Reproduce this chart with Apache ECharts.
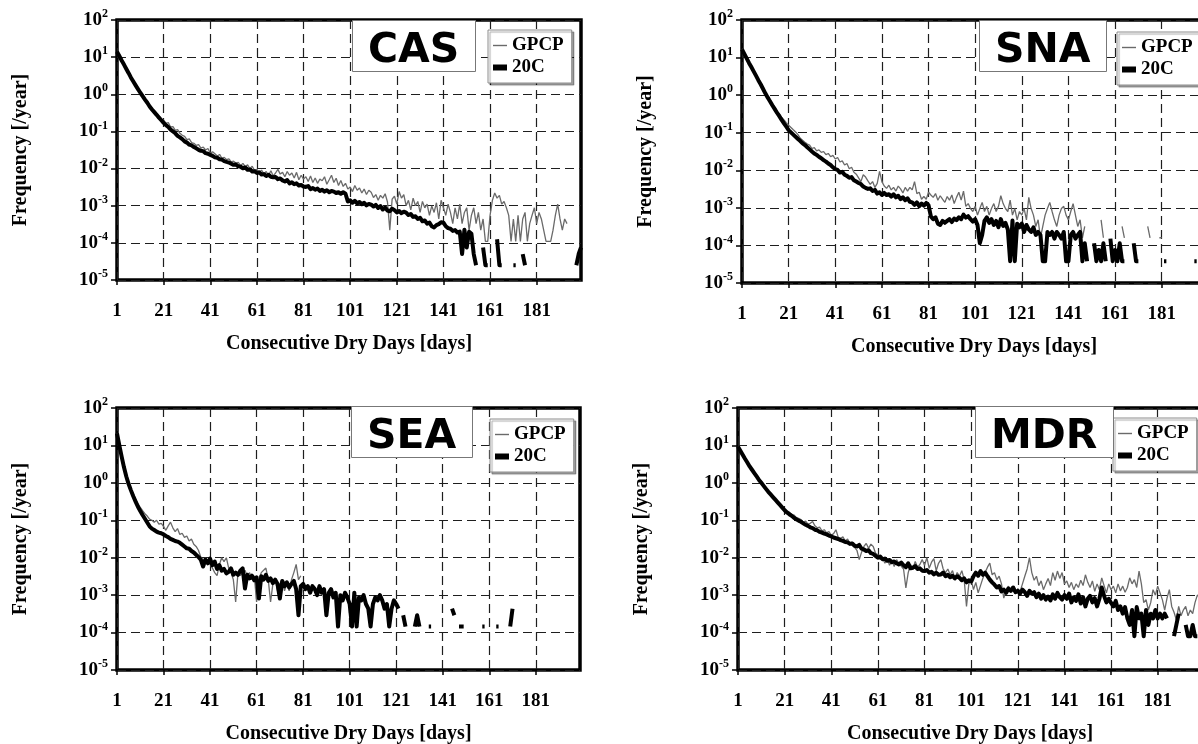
<!DOCTYPE html>
<html>
<head>
<meta charset="utf-8">
<title>Consecutive Dry Days frequency</title>
<script src="https://cdn.jsdelivr.net/npm/echarts/dist/echarts.min.js"></script>
<style>
  html, body { margin: 0; padding: 0; background: #fff; overflow: hidden; }
  #main { width: 1215px; height: 744px; }
</style>
</head>
<body>
<div id="main"></div>
<script>
// categories: consecutive dry days 1..200
var days = [];
for (var d = 1; d <= 200; d++) days.push(String(d));

// frequency [/year], one value per day (null = no event, line breaks)
var casGpcp = [
  13.5, 10.5, 7.9, 6.2, 4.8, 3.7, 2.9, 2.24, 1.78, 1.41,
  1.12, 0.91, 0.76, 0.62, 0.5, 0.43, 0.355, 0.3, 0.26, 0.22,
  0.2, 0.166, 0.174, 0.132, 0.135, 0.107, 0.112, 0.089, 0.079, 0.074,
  0.06, 0.063, 0.05, 0.048, 0.042, 0.044, 0.0355, 0.038, 0.0316, 0.0347,
  0.0263, 0.0282, 0.0251, 0.0219, 0.024, 0.019, 0.02, 0.0174, 0.0182, 0.0151,
  0.0158, 0.0141, 0.0148, 0.012, 0.0138, 0.0112, 0.0126, 0.01, 0.0115, 0.0089,
  0.0095, 0.0079, 0.0091, 0.0072, 0.0083, 0.0066, 0.0087, 0.0063, 0.0076, 0.0095,
  0.0071, 0.0079, 0.006, 0.0083, 0.0066, 0.0076, 0.0056, 0.0079, 0.005, 0.0066,
  0.0052, 0.006, 0.0045, 0.0063, 0.0042, 0.0056, 0.004, 0.0052, 0.0047, 0.006,
  0.0038, 0.005, 0.0066, 0.0042, 0.0055, 0.0035, 0.0048, 0.0033, 0.004, 0.0028,
  0.0032, 0.0024, 0.0035, 0.0026, 0.003, 0.0022, 0.0028, 0.002, 0.0026, 0.0023,
  0.00166, 0.002, 0.0014, 0.0019, 0.0016, 0.0021, 0.00126, 0.00022, 0.0015, 0.0018,
  0.0011, 0.0024, 0.0016, 0.002, 0.001, 0.0014, 0.00077, 0.0016, 0.001, 0.0013,
  0.00066, 0.0013, 0.00088, 0.0011, 0.00055, 0.00099, 0.00066, 0.0012, 0.00044, 0.0014,
  0.00088, 0.00055, 0.0011, 0.00066, 0.00033, 0.00088, 0.00044, 0.0011, 0.00033, 0.00066,
  0.00088, 0.00022, 0.00055, 0.00088, 0.00033, 0.00066, 0.00022, 0.00044, 0.00011, 0.00011,
  0.00055, 0.0014, 0.0022, 0.0016, 0.0019, 0.0011, 0.0013, 0.00088, 0.00055, 0.00011,
  0.00044, 0.00011, 0.00055, 0.00011, 0.00044, 0.00066, 0.00011, 0.00033, 0.00055, 0.00088,
  0.00033, 0.00066, 0.00044, 0.00022, 0.00011, 0.00011, 0.00011, 0.00022, 0.00055, 0.0011,
  0.00044, 0.00022, 0.00044, 0.00033
];
var cas20c = [
  14, 10.7, 8.1, 6.3, 4.8, 3.7, 2.8, 2.2, 1.74, 1.38,
  1.1, 0.89, 0.72, 0.59, 0.47, 0.39, 0.33, 0.28, 0.234, 0.2,
  0.17, 0.148, 0.132, 0.112, 0.1, 0.089, 0.076, 0.069, 0.062, 0.054,
  0.05, 0.044, 0.042, 0.038, 0.035, 0.032, 0.03, 0.0295, 0.026, 0.025,
  0.0234, 0.0219, 0.02, 0.0195, 0.0178, 0.0174, 0.0158, 0.0151, 0.0145, 0.0135,
  0.0126, 0.0129, 0.0115, 0.0112, 0.0102, 0.0107, 0.0093, 0.0095, 0.0083, 0.0085,
  0.0076, 0.0079, 0.0069, 0.0071, 0.0063, 0.0068, 0.006, 0.0058, 0.0059, 0.0052,
  0.0054, 0.0048, 0.0045, 0.0049, 0.004, 0.0043, 0.0038, 0.004, 0.0035, 0.0036,
  0.0033, 0.0032, 0.0034, 0.0028, 0.003, 0.0027, 0.0029, 0.0025, 0.0027, 0.0024,
  0.0026, 0.0023, 0.0025, 0.0024, 0.0022, 0.0023, 0.0021, 0.0023, 0.0021, 0.0013,
  0.0014, 0.0012, 0.00135, 0.00115, 0.00126, 0.0011, 0.0012, 0.00102, 0.00112, 0.00107,
  0.00095, 0.00105, 0.00087, 0.00098, 0.00079, 0.00089, 0.00074, 0.00071, 0.00083, 0.00076,
  0.00066, 0.00072, 0.00063, 0.00069, 0.00065, 0.00056, 0.0006, 0.0005, 0.00052, 0.00044,
  0.00047, 0.00038, 0.0004, 0.00033, 0.00035, 0.00028, 0.00026, 0.0003, 0.00032, 0.00036,
  0.00035, 0.00028, 0.00025, 0.00024, 0.00021, 0.00022, 0.00019, 0.0002, 5e-5, 2.25e-4,
  7.5e-5, 2e-4, 1.75e-4, 5e-5, 2.5e-5, null, null, 7.5e-5, 2.5e-5, 2.5e-5,
  null, null, null, 1.25e-4, 2.5e-5, 2.5e-5, null, null, null, null,
  2.5e-5, 2.5e-5, null, null, 5e-5, 2.5e-5, null, null, null, null,
  null, null, null, null, null, null, null, null, null, null,
  null, null, null, null, null, null, null, 2.5e-5, 5e-5, 7.5e-5
];

var snaGpcp = [
  16.6, 12.6, 9.5, 7.2, 5.6, 4.3, 3.3, 2.57, 2.0, 1.51,
  1.17, 0.93, 0.74, 0.59, 0.47, 0.38, 0.32, 0.26, 0.22, 0.186,
  0.158, 0.138, 0.12, 0.105, 0.089, 0.071, 0.063, 0.056, 0.05, 0.047,
  0.038, 0.04, 0.033, 0.035, 0.03, 0.0316, 0.026, 0.028, 0.023, 0.025,
  0.02, 0.022, 0.0166, 0.0178, 0.0138, 0.0151, 0.011, 0.012, 0.0089, 0.0079,
  0.0063, 0.005, 0.0076, 0.0066, 0.0052, 0.0042, 0.005, 0.0035, 0.0045, 0.0093,
  0.005, 0.0038, 0.0033, 0.004, 0.003, 0.0035, 0.0028, 0.0038, 0.0032, 0.0025,
  0.0035, 0.0028, 0.0035, 0.003, 0.005, 0.0024, 0.0026, 0.0017, 0.002, 0.0017,
  0.0026, 0.0022, 0.0019, 0.0024, 0.0016, 0.0021, 0.0017, 0.0014, 0.002, 0.0016,
  0.0022, 0.0013, 0.0019, 0.0026, 0.0016, 0.0028, 0.0011, 0.0013, 0.00096, 0.0008,
  0.0011, 0.00064, 0.00096, 0.0014, 0.0008, 0.0011, 0.00064, 0.00096, 0.0013, 0.0008,
  0.0011, 0.0021, 0.0013, 0.00096, 0.0008, 0.0016, 0.00064, 0.00096, 0.00048, 0.0008,
  0.00064, 0.00096, 0.00048, 0.0019, 0.00096, 0.00064, 0.00032, 0.00048, 0.00016, 0.00032,
  0.00064, 0.00096, 0.0014, 0.0008, 0.00048, 0.00032, 0.00064, 0.00096, 0.0011, 0.00064,
  0.00048, 0.0008, 0.0013, 0.00064, 0.00032, 0.00048, 0.00016, 0.00032, null, null,
  null, null, null, null, 0.00048, 0.00016, null, null, null, null,
  null, null, null, 0.00032, 0.00016, null, null, null, null, null,
  null, null, null, null, 0.00032, 0.00016, null, null, null, 0.00016,
  0.00016
];
var sna20c = [
  16.6, 12.6, 9.5, 7.2, 5.6, 4.3, 3.3, 2.5, 1.95, 1.48,
  1.12, 0.87, 0.69, 0.54, 0.43, 0.34, 0.275, 0.22, 0.178, 0.145,
  0.117, 0.102, 0.089, 0.078, 0.068, 0.06, 0.052, 0.047, 0.041, 0.036,
  0.0316, 0.028, 0.0257, 0.0229, 0.0209, 0.0186, 0.017, 0.0151, 0.0138, 0.012,
  0.0107, 0.0102, 0.0087, 0.0091, 0.0076, 0.0071, 0.0063, 0.0066, 0.0054, 0.005,
  0.0046, 0.0043, 0.0037, 0.0034, 0.0032, 0.0033, 0.0028, 0.003, 0.0024, 0.0026,
  0.0022, 0.0025, 0.0022, 0.0023, 0.002, 0.0023, 0.0019, 0.0021, 0.0017, 0.0019,
  0.0016, 0.0018, 0.00145, 0.0014, 0.0012, 0.0014, 0.0011, 0.0013, 0.00115, 0.00135,
  0.00118, 5.9e-4, 5.0e-4, 5.6e-4, 3.8e-4, 3.5e-4, 4.5e-4, 4.0e-4, 4.5e-4, 5.0e-4,
  4.2e-4, 5.2e-4, 4.7e-4, 5.6e-4, 5.0e-4, 6.6e-4, 5.5e-4, 6.0e-4, 5.0e-4, 4.3e-4,
  5.0e-4, 3.5e-4, 1.14e-4, 1.9e-4, 4.5e-4, 5.6e-4, 4.0e-4, 5.0e-4, 3.5e-4, 4.5e-4,
  3.04e-4, 5.0e-4, 3.3e-4, 4.0e-4, 2.66e-4, 3.8e-5, 4.6e-4, 3.8e-5, 3.8e-4, 3.04e-4,
  3.8e-4, 2.28e-4, 3.5e-4, 2.66e-4, 2.28e-4, 3.04e-4, 1.9e-4, 2.28e-4, 1.9e-4, 3.8e-5,
  3.8e-5, 2.28e-4, 1.9e-4, 2.28e-4, 1.52e-4, 2.28e-4, 1.9e-4, 1.52e-4, 2.28e-4, 3.8e-5,
  3.8e-5, 1.9e-4, 2.28e-4, 1.52e-4, 1.9e-4, 2.28e-4, 3.8e-5, 1.14e-4, 3.8e-5, null,
  null, 1.14e-4, 3.8e-5, 7.6e-5, 3.8e-5, 1.14e-4, 3.8e-5, null, 1.52e-4, 3.8e-5,
  7.6e-5, 3.8e-5, 1.14e-4, 3.8e-5, 3.8e-5, null, null, null, 1.14e-4, 3.8e-5,
  3.8e-5, null, null, null, null, null, null, null, null, null,
  null, 3.8e-5, 3.8e-5, null, null, null, null, null, null, null,
  null, null, null, null, 3.8e-5, 3.8e-5
];

var seaGpcp = [
  21, 10.5, 5.4, 2.9, 1.62, 1.0, 0.68, 0.5, 0.36, 0.28,
  0.22, 0.18, 0.15, 0.13, 0.107, 0.1, 0.089, 0.1, 0.079, 0.083,
  0.069, 0.054, 0.071, 0.089, 0.063, 0.05, 0.06, 0.042, 0.045, 0.035,
  0.038, 0.028, 0.0316, 0.023, 0.02, 0.0158, 0.0105, 0.0085, 0.01, 0.0079,
  0.0066, 0.0053, 0.004, 0.0033, 0.0066, 0.01, 0.0079, 0.01, 0.0053, 0.004,
  0.0026, 0.00066, 0.004, 0.0033, 0.004, 0.0046, 0.0033, 0.004, 0.0026, 0.0033,
  0.00066, 0.0026, 0.004, 0.0046, 0.0053, 0.0026, 0.00066, 0.002, 0.0026, 0.0013,
  0.002, 0.0026, 0.0013, 0.002, 0.0013, 0.0026, 0.004, 0.0066, 0.0026, 0.0033
];
var sea20c = [
  21, 10, 5.0, 2.6, 1.48, 0.93, 0.63, 0.44, 0.316, 0.23,
  0.178, 0.138, 0.11, 0.087, 0.069, 0.06, 0.055, 0.05, 0.047, 0.045,
  0.042, 0.038, 0.0355, 0.032, 0.03, 0.028, 0.027, 0.025, 0.0224, 0.02,
  0.0178, 0.0174, 0.0151, 0.0138, 0.012, 0.0105, 0.0089, 0.0058, 0.0089, 0.0071,
  0.0095, 0.0063, 0.0079, 0.005, 0.0063, 0.0045, 0.005, 0.0038, 0.0042, 0.0052,
  0.0035, 0.004, 0.0035, 0.0045, 0.0052, 0.0015, 0.0035, 0.0028, 0.0033, 0.0025,
  0.003, 0.00081, 0.0032, 0.0026, 0.0035, 0.0024, 0.0028, 0.0021, 0.0026, 0.002,
  0.00081, 0.0024, 0.00174, 0.0022, 0.0016, 0.002, 0.0024, 0.00145, 0.00029, 0.00174,
  0.002, 0.00145, 0.00174, 0.00116, 0.00174, 0.00145, 0.001, 0.00174, 0.00116, 0.00145,
  0.00029, 0.00116, 0.00145, 0.00087, 0.00116, 0.000145, 0.001, 0.000725, 0.00116, 0.00087,
  0.00058, 0.000145, 0.00116, 0.000145, 0.00087, 0.000725, 0.001, 0.00058, 0.000435, 0.000145,
  0.00058, 0.00087, 0.000725, 0.001, 0.000725, 0.000435, 0.00058, 0.000145, 0.000435, 0.000725,
  0.00058, 0.000435, null, 0.00029, 0.000145, null, null, null, 0.000145, 0.00029,
  0.000145, null, null, null, 0.000145, 0.000145, null, null, null, null,
  null, null, null, null, 0.000435, 0.00029, null, 0.000145, 0.000145, 0.000145,
  null, null, null, null, null, null, null, 0.000145, 0.000145, null,
  null, null, null, 0.000145, 0.000145, null, null, null, null, 0.000145,
  0.000435
];

var mdrGpcp = [
  9.3, 7.2, 5.6, 4.4, 3.5, 2.75, 2.24, 1.82, 1.48, 1.23,
  1.02, 0.85, 0.71, 0.59, 0.5, 0.43, 0.36, 0.31, 0.27, 0.234,
  0.2, 0.174, 0.166, 0.141, 0.138, 0.117, 0.112, 0.105, 0.089, 0.095,
  0.079, 0.083, 0.093, 0.071, 0.063, 0.066, 0.052, 0.056, 0.046, 0.05,
  0.04, 0.044, 0.056, 0.035, 0.033, 0.036, 0.028, 0.0316, 0.024, 0.026,
  0.019, 0.0158, 0.0089, 0.0141, 0.02, 0.024, 0.0178, 0.023, 0.02, 0.0132,
  0.012, 0.0089, 0.01, 0.0071, 0.0095, 0.0063, 0.0083, 0.0058, 0.0089, 0.0071,
  0.006, 0.005, 0.00155, 0.004, 0.0066, 0.005, 0.0079, 0.0056, 0.0066, 0.0089,
  0.0063, 0.01, 0.0052, 0.0076, 0.0095, 0.0045, 0.0071, 0.0089, 0.005, 0.004,
  0.005, 0.0035, 0.0045, 0.0028, 0.004, 0.0032, 0.0045, 0.0026, 0.0005, 0.002,
  0.0026, 0.0014, 0.0022, 0.00115, 0.0018, 0.0028, 0.004, 0.0056, 0.0072, 0.0035,
  0.004, 0.0026, 0.0032, 0.002, 0.00083, 0.0014, 0.00174, 0.00126, 0.0016, 0.00115,
  0.0015, 0.00126, 0.002, 0.0032, 0.005, 0.01, 0.004, 0.0025, 0.0032, 0.0018,
  0.0024, 0.0014, 0.002, 0.0028, 0.0018, 0.004, 0.0025, 0.0044, 0.0028, 0.004,
  0.002, 0.0024, 0.0016, 0.0022, 0.0014, 0.002, 0.0016, 0.0025, 0.0018, 0.0035,
  0.0022, 0.0016, 0.0024, 0.00126, 0.002, 0.0014, 0.0029, 0.0018, 0.00115, 0.002,
  0.0014, 0.00174, 0.00115, 0.002, 0.0013, 0.00174, 0.0012, 0.0016, 0.0029, 0.002,
  0.0026, 0.0016, 0.0044, 0.002, 0.00063, 0.00076, 0.0004, 0.00063, 0.0014, 0.001,
  0.00174, 0.00115, 0.00076, 0.0004, 0.00083, 0.0014, 0.0005, 0.00035, 0.00022, 0.0005,
  0.00028, 0.0004, 0.0005, 0.00028, 0.0004, 0.00032, 0.00063, 0.001, 0.0009, 0.00063
];
var mdr20c = [
  9.3, 7.2, 5.6, 4.4, 3.5, 2.75, 2.24, 1.82, 1.48, 1.2,
  1.0, 0.83, 0.69, 0.575, 0.49, 0.417, 0.355, 0.302, 0.257, 0.219,
  0.186, 0.162, 0.145, 0.132, 0.117, 0.107, 0.098, 0.091, 0.083, 0.076,
  0.071, 0.065, 0.062, 0.056, 0.054, 0.049, 0.047, 0.044, 0.042, 0.039,
  0.037, 0.0347, 0.0331, 0.0316, 0.0295, 0.0282, 0.0263, 0.0257, 0.0234, 0.024,
  0.0209, 0.02, 0.0219, 0.0174, 0.0166, 0.0151, 0.0158, 0.0132, 0.0126, 0.0112,
  0.01, 0.0107, 0.0091, 0.0095, 0.0083, 0.0087, 0.0076, 0.0079, 0.0071, 0.0066,
  0.0074, 0.0063, 0.0056, 0.0071, 0.0052, 0.0054, 0.006, 0.005, 0.0052, 0.0045,
  0.0044, 0.0047, 0.004, 0.0042, 0.0036, 0.004, 0.0035, 0.00355, 0.004, 0.0032,
  0.0035, 0.003, 0.0033, 0.0028, 0.0032, 0.0029, 0.0025, 0.0028, 0.0022, 0.0025,
  0.0023, 0.0032, 0.004, 0.0033, 0.0044, 0.0035, 0.004, 0.0032, 0.0026, 0.0022,
  0.0019, 0.0016, 0.00175, 0.00126, 0.0014, 0.00115, 0.0015, 0.0013, 0.0016, 0.0012,
  0.0013, 0.0011, 0.0014, 0.0012, 0.00096, 0.0013, 0.0011, 0.0012, 0.00088, 0.0011,
  0.0008, 0.001, 0.00076, 0.00091, 0.00072, 0.00105, 0.0008, 0.00115, 0.00088, 0.00076,
  0.001, 0.0008, 0.0011, 0.00064, 0.00088, 0.0007, 0.00105, 0.0006, 0.00088, 0.0005,
  0.0008, 0.00096, 0.00064, 0.00083, 0.0005, 0.0008, 0.0016, 0.00096, 0.00064, 0.0008,
  0.00062, 0.0005, 0.0007, 0.0004, 0.0005, 0.00032, 0.00048, 0.00024, 0.00016, 0.0004,
  0.00008, 0.00048, 0.00024, 0.00032, 0.00008, 0.0004, 0.00016, 0.00032, 0.00024, 0.0004,
  0.00024, 0.00032, 0.00024, 0.00032, 0.00024, null, null, 0.00008, 0.00016, 0.00032,
  null, null, 0.00016, 0.00008, 0.00008, 0.00016, 0.00008, 0.00008
];

(function () {
  var myChart = echarts.init(document.getElementById('main'));

  var serif = '"Liberation Serif", "Times New Roman", serif';
  var dashed = { color: '#1e1e1e', width: 1.2, type: [9, 5] };

  // one panel per region
  var panels = [
    { name: 'CAS', gpcp: casGpcp, c20: cas20c, grid: { left: 117, top: 20, width: 464, height: 260 }, title: [352, 22], legend: [488, 30] },
    { name: 'SNA', gpcp: snaGpcp, c20: sna20c, grid: { left: 742, top: 20, width: 464, height: 263 }, title: [979, 22], legend: [1117, 32] },
    { name: 'SEA', gpcp: seaGpcp, c20: sea20c, grid: { left: 117, top: 408, width: 463, height: 262 }, title: [351, 408], legend: [490, 419] },
    { name: 'MDR', gpcp: mdrGpcp, c20: mdr20c, grid: { left: 738, top: 408, width: 464, height: 262 }, title: [975, 408], legend: [1113, 418] }
  ];

  var grids = [], xAxes = [], yAxes = [], series = [], titles = [], legends = [];

  panels.forEach(function (p, i) {
    grids.push({
      left: p.grid.left, top: p.grid.top, width: p.grid.width, height: p.grid.height,
      show: true, borderColor: '#000', borderWidth: 3.5, backgroundColor: 'transparent',
      outerBoundsMode: 'none', containLabel: false
    });
    xAxes.push({
      gridIndex: i,
      type: 'category',
      data: days,
      boundaryGap: false,
      axisLine: { show: false },
      axisTick: { show: true, interval: 19, length: 5, lineStyle: { color: '#000', width: 1.5 } },
      axisLabel: { interval: 19, margin: 22, color: '#000', fontFamily: serif, fontWeight: 'bold', fontSize: 19 },
      splitLine: { show: true, interval: 19, lineStyle: dashed },
      name: 'Consecutive Dry Days [days]',
      nameLocation: 'middle',
      nameGap: 54,
      nameTextStyle: { color: '#000', fontFamily: serif, fontWeight: 'bold', fontSize: 20 }
    });
    yAxes.push({
      gridIndex: i,
      type: 'log',
      logBase: 10,
      min: 1e-5,
      max: 100,
      splitNumber: 7,
      axisLine: { show: false },
      axisTick: { show: true, length: 6, lineStyle: { color: '#000', width: 1.5 } },
      axisLabel: {
        margin: 9,
        formatter: function (v) {
          return '{b|10}{s|' + Math.round(Math.log10(v)) + '}';
        },
        rich: {
          b: { color: '#000', fontFamily: serif, fontWeight: 'bold', fontSize: 19, lineHeight: 24 },
          s: { color: '#000', fontFamily: serif, fontWeight: 'bold', fontSize: 12, lineHeight: 13, verticalAlign: 'top' }
        }
      },
      splitLine: { show: true, lineStyle: dashed },
      name: 'Frequency [/year]',
      nameLocation: 'middle',
      nameGap: 86,
      nameRotate: 90,
      nameTextStyle: { color: '#000', fontFamily: serif, fontWeight: 'bold', fontSize: 20 }
    });
    series.push({
      name: 'GPCP', type: 'line', xAxisIndex: i, yAxisIndex: i,
      data: p.gpcp, symbol: 'none', showSymbol: false,
      lineStyle: { color: '#6a6a6a', width: 1.3 }, itemStyle: { color: '#6a6a6a' },
      z: 2
    });
    series.push({
      name: '20C', type: 'line', xAxisIndex: i, yAxisIndex: i,
      data: p.c20, symbol: 'none', showSymbol: false,
      lineStyle: { color: '#000', width: 4, join: 'round' }, itemStyle: { color: '#000' },
      z: 3
    });
    titles.push({
      text: p.name, left: p.title[0], top: p.title[1],
      padding: [10, 16, 0, 16],
      backgroundColor: '#fff', borderColor: '#777', borderWidth: 1,
      textStyle: { color: '#000', fontFamily: '"DejaVu Sans", Verdana, sans-serif', fontWeight: 'bold', fontSize: 41, lineHeight: 38 }
    });
    legends.push({
      left: p.legend[0], top: p.legend[1],
      orient: 'vertical', selectedMode: false,
      itemWidth: 14, itemHeight: 6, itemGap: 3,
      padding: [6, 8, 6, 5],
      backgroundColor: '#fff', borderColor: '#8c8c8c', borderWidth: 1,
      shadowColor: 'rgba(0,0,0,0.35)', shadowOffsetX: 2, shadowOffsetY: 2, shadowBlur: 1,
      textStyle: { color: '#000', fontFamily: serif, fontWeight: 'bold', fontSize: 19 },
      data: [
        { name: 'GPCP', icon: 'path://M0,0H14V1.4H0Z' },
        { name: '20C', icon: 'rect' }
      ]
    });
  });

  var option = {
    animation: false,
    backgroundColor: '#fff',
    title: titles,
    legend: legends,
    grid: grids,
    xAxis: xAxes,
    yAxis: yAxes,
    series: series
  };

  if (option && typeof option === 'object') {
    myChart.setOption(option);
  }
  window.addEventListener('resize', myChart.resize);
})();
</script>
</body>
</html>
